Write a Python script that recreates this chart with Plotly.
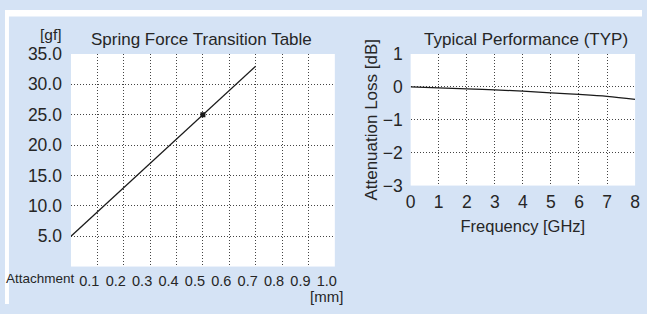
import plotly.graph_objects as go

# ---- data ----
stroke_mm = [0.0, 0.5, 0.7]
force_gf = [5.0, 25.0, 33.0]
nominal_mm = [0.5]
nominal_gf = [25.0]
x_labels = ["Attachment", "0.1", "0.2", "0.3", "0.4", "0.5", "0.6", "0.7", "0.8", "0.9", "1.0"]
x_tickvals = [0.0, 0.1, 0.2, 0.3, 0.4, 0.5, 0.6, 0.7, 0.8, 0.9, 1.0]
y_tickvals = [5, 10, 15, 20, 25, 30, 35]
y_ticktext = ["5.0", "10.0", "15.0", "20.0", "25.0", "30.0", "35.0"]

freq_ghz = [0, 1, 2, 3, 4, 5, 6, 7, 8]
loss_db = [0.0, -0.03, -0.06, -0.09, -0.13, -0.18, -0.23, -0.29, -0.38]

W, H = 647, 314
BG = "rgb(213,227,245)"
TXT = "#262626"
FONT = "Liberation Sans, Arial, sans-serif"
NARROW = "Liberation Sans Narrow, Liberation Sans, Arial"
GRID = dict(showgrid=True, gridcolor="#444444", griddash="1px,2px", gridwidth=1,
            zeroline=False, showline=False, ticks="")


def px_x(p):
    return p / W


def px_y(p):
    return 1 - p / H


fig = go.Figure()
fig.add_trace(go.Scatter(x=stroke_mm, y=force_gf, mode="lines",
                         line=dict(color="#1a1a1a", width=1.3),
                         xaxis="x", yaxis="y", showlegend=False, hoverinfo="skip"))
fig.add_trace(go.Scatter(x=nominal_mm, y=nominal_gf, mode="markers",
                         marker=dict(color="#1a1a1a", size=5, symbol="square"),
                         xaxis="x", yaxis="y", showlegend=False, hoverinfo="skip"))
fig.add_trace(go.Scatter(x=freq_ghz, y=loss_db, mode="lines",
                         line=dict(color="#1a1a1a", width=1.3, shape="spline"),
                         xaxis="x2", yaxis="y2", showlegend=False, hoverinfo="skip"))

fig.update_layout(
    width=W, height=H,
    margin=dict(l=0, r=0, t=0, b=0),
    paper_bgcolor=BG, plot_bgcolor="white",
    font=dict(family=FONT, color=TXT),
    hovermode=False,
    xaxis=dict(domain=[px_x(67), px_x(335)], range=[0, 1.0],
               tickvals=x_tickvals[1:], ticktext=x_labels[1:],
               tickfont=dict(size=14.5, family=NARROW, color=TXT),
               ticklabelshift=-8, ticklabelstandoff=4, anchor="y", **GRID),
    yaxis=dict(domain=[px_y(274), px_y(47)], range=[0, 35],
               tickvals=y_tickvals, ticktext=y_ticktext,
               tickfont=dict(size=17.5, color=TXT), ticklabelstandoff=8,
               anchor="x", **GRID),
    xaxis2=dict(domain=[px_x(412), px_x(640)], range=[0, 8], dtick=1,
                tickfont=dict(size=17.5, color=TXT), ticklabelstandoff=4,
                title=dict(text="Frequency [GHz]", font=dict(size=16.5, color=TXT), standoff=9),
                anchor="y2", **GRID),
    yaxis2=dict(domain=[px_y(187.5), px_y(47)], range=[-3, 1], dtick=1,
                tickfont=dict(size=17.5, color=TXT), ticklabelstandoff=7,
                title=dict(text="Attenuation Loss [dB]", font=dict(size=17, color=TXT), standoff=0),
                anchor="x2", **GRID),
    shapes=[
        dict(type="rect", xref="paper", yref="paper", x0=0, x1=1, y0=px_y(7), y1=1,
             fillcolor="white", line=dict(width=0), layer="below"),
        dict(type="rect", xref="paper", yref="paper", x0=0, x1=px_x(4), y0=0, y1=1,
             fillcolor="white", line=dict(width=0), layer="below"),
    ],
    annotations=[
        dict(text="Spring Force Transition Table", xref="paper", yref="paper",
             x=px_x(200), y=px_y(31), xanchor="center", yanchor="middle",
             showarrow=False, font=dict(size=17, color=TXT)),
        dict(text="Typical Performance (TYP)", xref="paper", yref="paper",
             x=px_x(529), y=px_y(31), xanchor="center", yanchor="middle",
             showarrow=False, font=dict(size=17, color=TXT)),
        dict(text="[gf]", xref="paper", yref="paper",
             x=px_x(60), y=px_y(26), xanchor="right", yanchor="middle",
             showarrow=False, font=dict(size=15.5, color=TXT)),
        dict(text="[mm]", xref="paper", yref="paper",
             x=px_x(345), y=px_y(306), xanchor="right", yanchor="middle",
             showarrow=False, font=dict(size=15, color=TXT)),
        dict(text=x_labels[0], xref="x", yref="paper", x=x_tickvals[0],
             y=px_y(287), xanchor="right", yanchor="middle", xshift=6,
             showarrow=False, font=dict(size=13.5, family=NARROW, color=TXT)),
    ],
)

# remove the browser's default 8px body margin so the figure fills the window
fig.write_html("out.html",
               config={"displayModeBar": False, "staticPlot": True},
               post_script="document.body.style.margin='0';document.body.style.padding='0';"
                           "document.documentElement.style.overflow='hidden';")
